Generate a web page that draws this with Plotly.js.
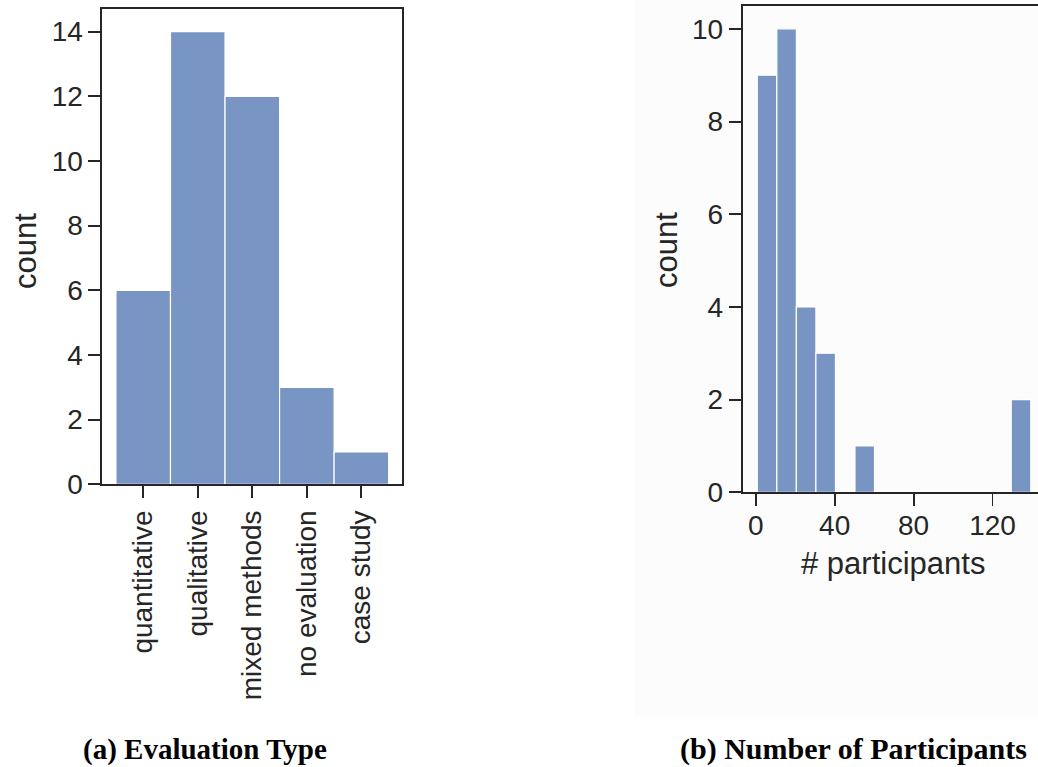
<!DOCTYPE html>
<html>
<head>
<meta charset="utf-8">
<script src="https://cdn.plot.ly/plotly-3.0.1.min.js"></script>
<style>
  html, body { margin: 0; padding: 0; background: #ffffff; overflow: hidden; width: 1038px; height: 767px; }
  #chart { width: 1052px; height: 767px; }
</style>
</head>
<body>
<div id="chart"></div>
<script>
// ---- data ----
const evalTypes = ['quantitative', 'qualitative', 'mixed methods', 'no evaluation', 'case study'];
const evalCounts = [6, 14, 12, 3, 1];

const participantBinStart = 0.8;
const participantBinWidth = 9.9;
const participantCounts = [9, 10, 4, 3, 0, 1, 0, 0, 0, 0, 0, 0, 0, 2];

const leftYTicks = [0, 2, 4, 6, 8, 10, 12, 14];
const rightYTicks = [0, 2, 4, 6, 8, 10];
const rightXTicks = [0, 40, 80, 120];

const captionA = '(a) Evaluation Type';
const captionB = '(b) Number of Participants';

// ---- layout helpers ----
const W = 1052, H = 767;
const px = v => v / W;
const py = v => 1 - v / H;

const barColor = 'rgba(76,114,176,0.75)';
const ink = '#262626';
const sans = 'Liberation Sans, Arial, sans-serif';
const serif = 'Liberation Serif, Times New Roman, serif';
const tickFont = { family: sans, size: 28, color: ink };
const labelFont = { family: sans, size: 31, color: ink };

const binCenters = participantCounts.map((_, i) => participantBinStart + participantBinWidth * (i + 0.5));

const traces = [
  {
    type: 'bar', x: evalTypes, y: evalCounts, xaxis: 'x', yaxis: 'y',
    width: evalTypes.map(() => 1),
    marker: { color: barColor, line: { color: '#ffffff', width: 1.2 } },
    hoverinfo: 'x+y', showlegend: false
  },
  {
    type: 'bar', x: binCenters, y: participantCounts, xaxis: 'x2', yaxis: 'y2',
    width: binCenters.map(() => participantBinWidth),
    marker: { color: barColor, line: { color: '#ffffff', width: 1.2 } },
    hoverinfo: 'x+y', showlegend: false
  }
];

const axisCommon = {
  showgrid: false, zeroline: false, showline: true, linecolor: ink, linewidth: 1.9,
  mirror: true, ticks: 'outside', ticklen: 12, tickwidth: 1.9, tickcolor: ink,
  tickfont: tickFont, fixedrange: true
};

const layout = {
  width: W, height: H,
  margin: { l: 0, r: 0, t: 0, b: 0 },
  paper_bgcolor: 'rgba(0,0,0,0)',
  plot_bgcolor: 'rgba(0,0,0,0)',
  showlegend: false,
  xaxis: Object.assign({}, axisCommon, {
    domain: [px(102.3), px(402.3)], anchor: 'y',
    type: 'category', range: [-0.75, 4.75], tickangle: -90,
    ticklabelstandoff: 1
  }),
  yaxis: Object.assign({}, axisCommon, {
    domain: [py(484.3), py(9)], anchor: 'x',
    range: [0, 14.7], tickvals: leftYTicks, ticklabelstandoff: 0
  }),
  xaxis2: Object.assign({}, axisCommon, {
    domain: [px(742.7), px(1044)], anchor: 'y2',
    range: [-6.6, 146.1], tickvals: rightXTicks, ticklabelstandoff: -5
  }),
  yaxis2: Object.assign({}, axisCommon, {
    domain: [py(492.3), py(5.7)], anchor: 'x2',
    range: [0, 10.5], tickvals: rightYTicks, ticklabelstandoff: 0
  }),
  shapes: [
    { type: 'rect', xref: 'paper', yref: 'paper', x0: px(635), x1: 1, y0: py(717), y1: 1,
      fillcolor: '#fcfcfc', line: { width: 0 }, layer: 'below' }
  ],
  annotations: [
    { text: 'count', xref: 'paper', yref: 'paper', x: px(25), y: py(251), textangle: -90,
      showarrow: false, xanchor: 'center', yanchor: 'middle', font: labelFont },
    { text: 'count', xref: 'paper', yref: 'paper', x: px(666), y: py(250), textangle: -90,
      showarrow: false, xanchor: 'center', yanchor: 'middle', font: labelFont },
    { text: '# participants', xref: 'paper', yref: 'paper', x: px(893), y: py(563),
      showarrow: false, xanchor: 'center', yanchor: 'middle', font: labelFont },
    { text: '<b>' + captionA + '</b>', xref: 'paper', yref: 'paper', x: px(205), y: py(749),
      showarrow: false, xanchor: 'center', yanchor: 'middle', font: { family: serif, size: 29, color: '#000000' } },
    { text: '<b>' + captionB + '</b>', xref: 'paper', yref: 'paper', x: px(853), y: py(749),
      showarrow: false, xanchor: 'center', yanchor: 'middle', font: { family: serif, size: 30, color: '#000000' } }
  ]
};

Plotly.newPlot('chart', traces, layout, { displayModeBar: false, staticPlot: true });
</script>
</body>
</html>
